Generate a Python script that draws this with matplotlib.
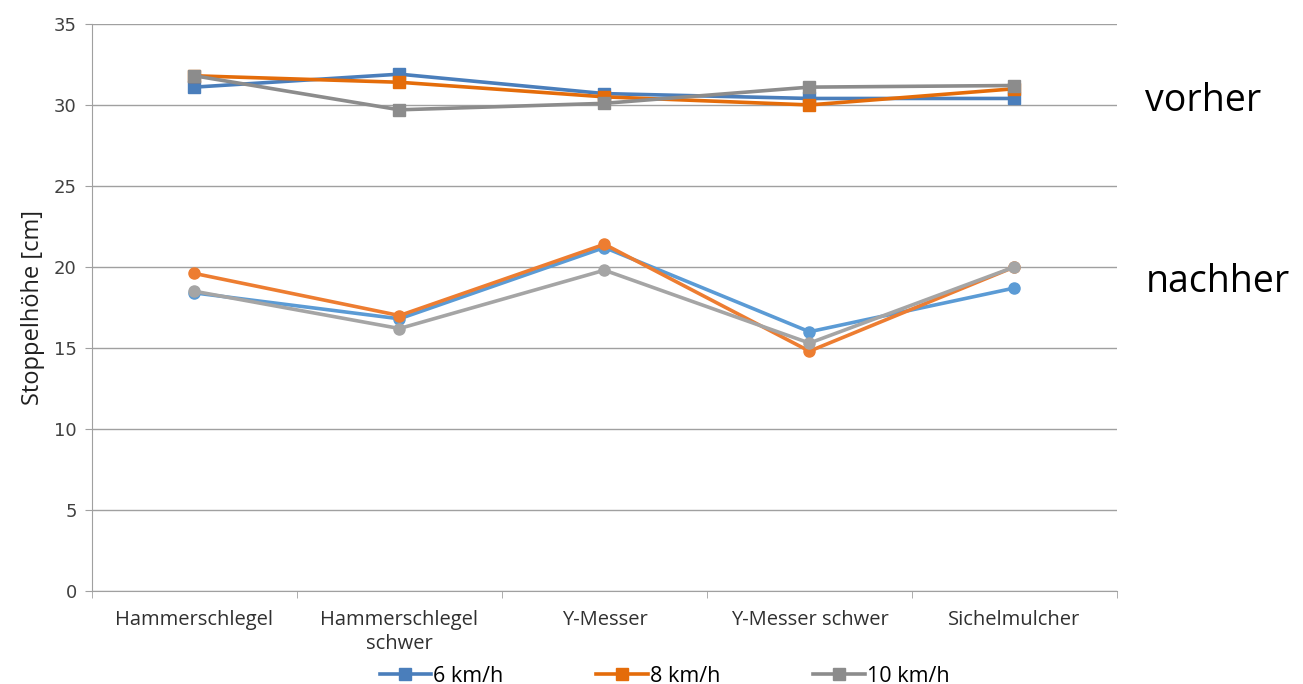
import numpy as np
import matplotlib.pyplot as plt

plt.rcParams['font.family'] = ['Open Sans', 'DejaVu Sans']

# data
categories = ['Hammerschlegel', 'Hammerschlegel\nschwer', 'Y-Messer', 'Y-Messer schwer', 'Sichelmulcher']
speeds = ['6 km/h', '8 km/h', '10 km/h']

vorher_6 = [31.1, 31.9, 30.7, 30.4, 30.4]
vorher_8 = [31.8, 31.4, 30.5, 30.0, 31.0]
vorher_10 = [31.8, 29.7, 30.1, 31.1, 31.2]

nachher_6 = [18.4, 16.8, 21.2, 16.0, 18.7]
nachher_8 = [19.6, 17.0, 21.4, 14.8, 20.0]
nachher_10 = [18.5, 16.2, 19.8, 15.3, 20.0]

dark_cols = ['#4a7ebb', '#e46c0a', '#8c8c8c']
light_cols = ['#5b9bd5', '#ed7d31', '#a5a5a5']

fig = plt.figure(figsize=(13.03, 6.84), dpi=100)
ax = fig.add_axes([0.0706, 0.136, 0.7866, 0.829])

x = np.arange(len(categories))

# nachher first (circles), then vorher (squares) on top
for vals, c in zip([nachher_6, nachher_8, nachher_10], light_cols):
    ax.plot(x, vals, color=c, lw=2.6, marker='o', markersize=8, zorder=3)
for vals, c, lab in zip([vorher_6, vorher_8, vorher_10], dark_cols, speeds):
    ax.plot(x, vals, color=c, lw=2.6, marker='s', markersize=8, label=lab, zorder=3)

ax.set_xlim(-0.5, len(categories) - 0.5)
ax.set_ylim(0, 35)
ax.set_yticks(np.arange(0, 36, 5))
ax.set_xticks(x)
ax.set_xticklabels(categories, fontsize=14.5, linespacing=1.25)
ax.set_xticks(np.arange(-0.5, len(categories), 1), minor=True)
ax.tick_params(axis='x', which='major', length=0, pad=14)
ax.tick_params(axis='x', which='minor', length=5, color='#a0a0a0')
ax.tick_params(axis='y', length=5, color='#a0a0a0', labelsize=13, pad=6, labelcolor='#404040')
ax.tick_params(axis='x', labelcolor='#303030')
for lbl in ax.get_yticklabels():
    lbl.set_family(['DejaVu Sans'])

ax.grid(axis='y', color='#a0a0a0', lw=1)
ax.set_axisbelow(True)
for s in ['top', 'right']:
    ax.spines[s].set_visible(False)
for s in ['left', 'bottom']:
    ax.spines[s].set_color('#a0a0a0')

ax.set_ylabel('Stoppelhöhe [cm]', fontsize=17, labelpad=6, color='#202020')

fig.text(0.879, 0.853, 'vorher', fontsize=27, va='center')
fig.text(0.879, 0.587, 'nachher', fontsize=27, va='center')

fig.legend(loc='lower center', bbox_to_anchor=(0.51, -0.032), ncol=3, frameon=False,
           fontsize=15.5, columnspacing=4.3, handlelength=2.4, handletextpad=0.1)

fig.savefig('out.png', dpi=100)
